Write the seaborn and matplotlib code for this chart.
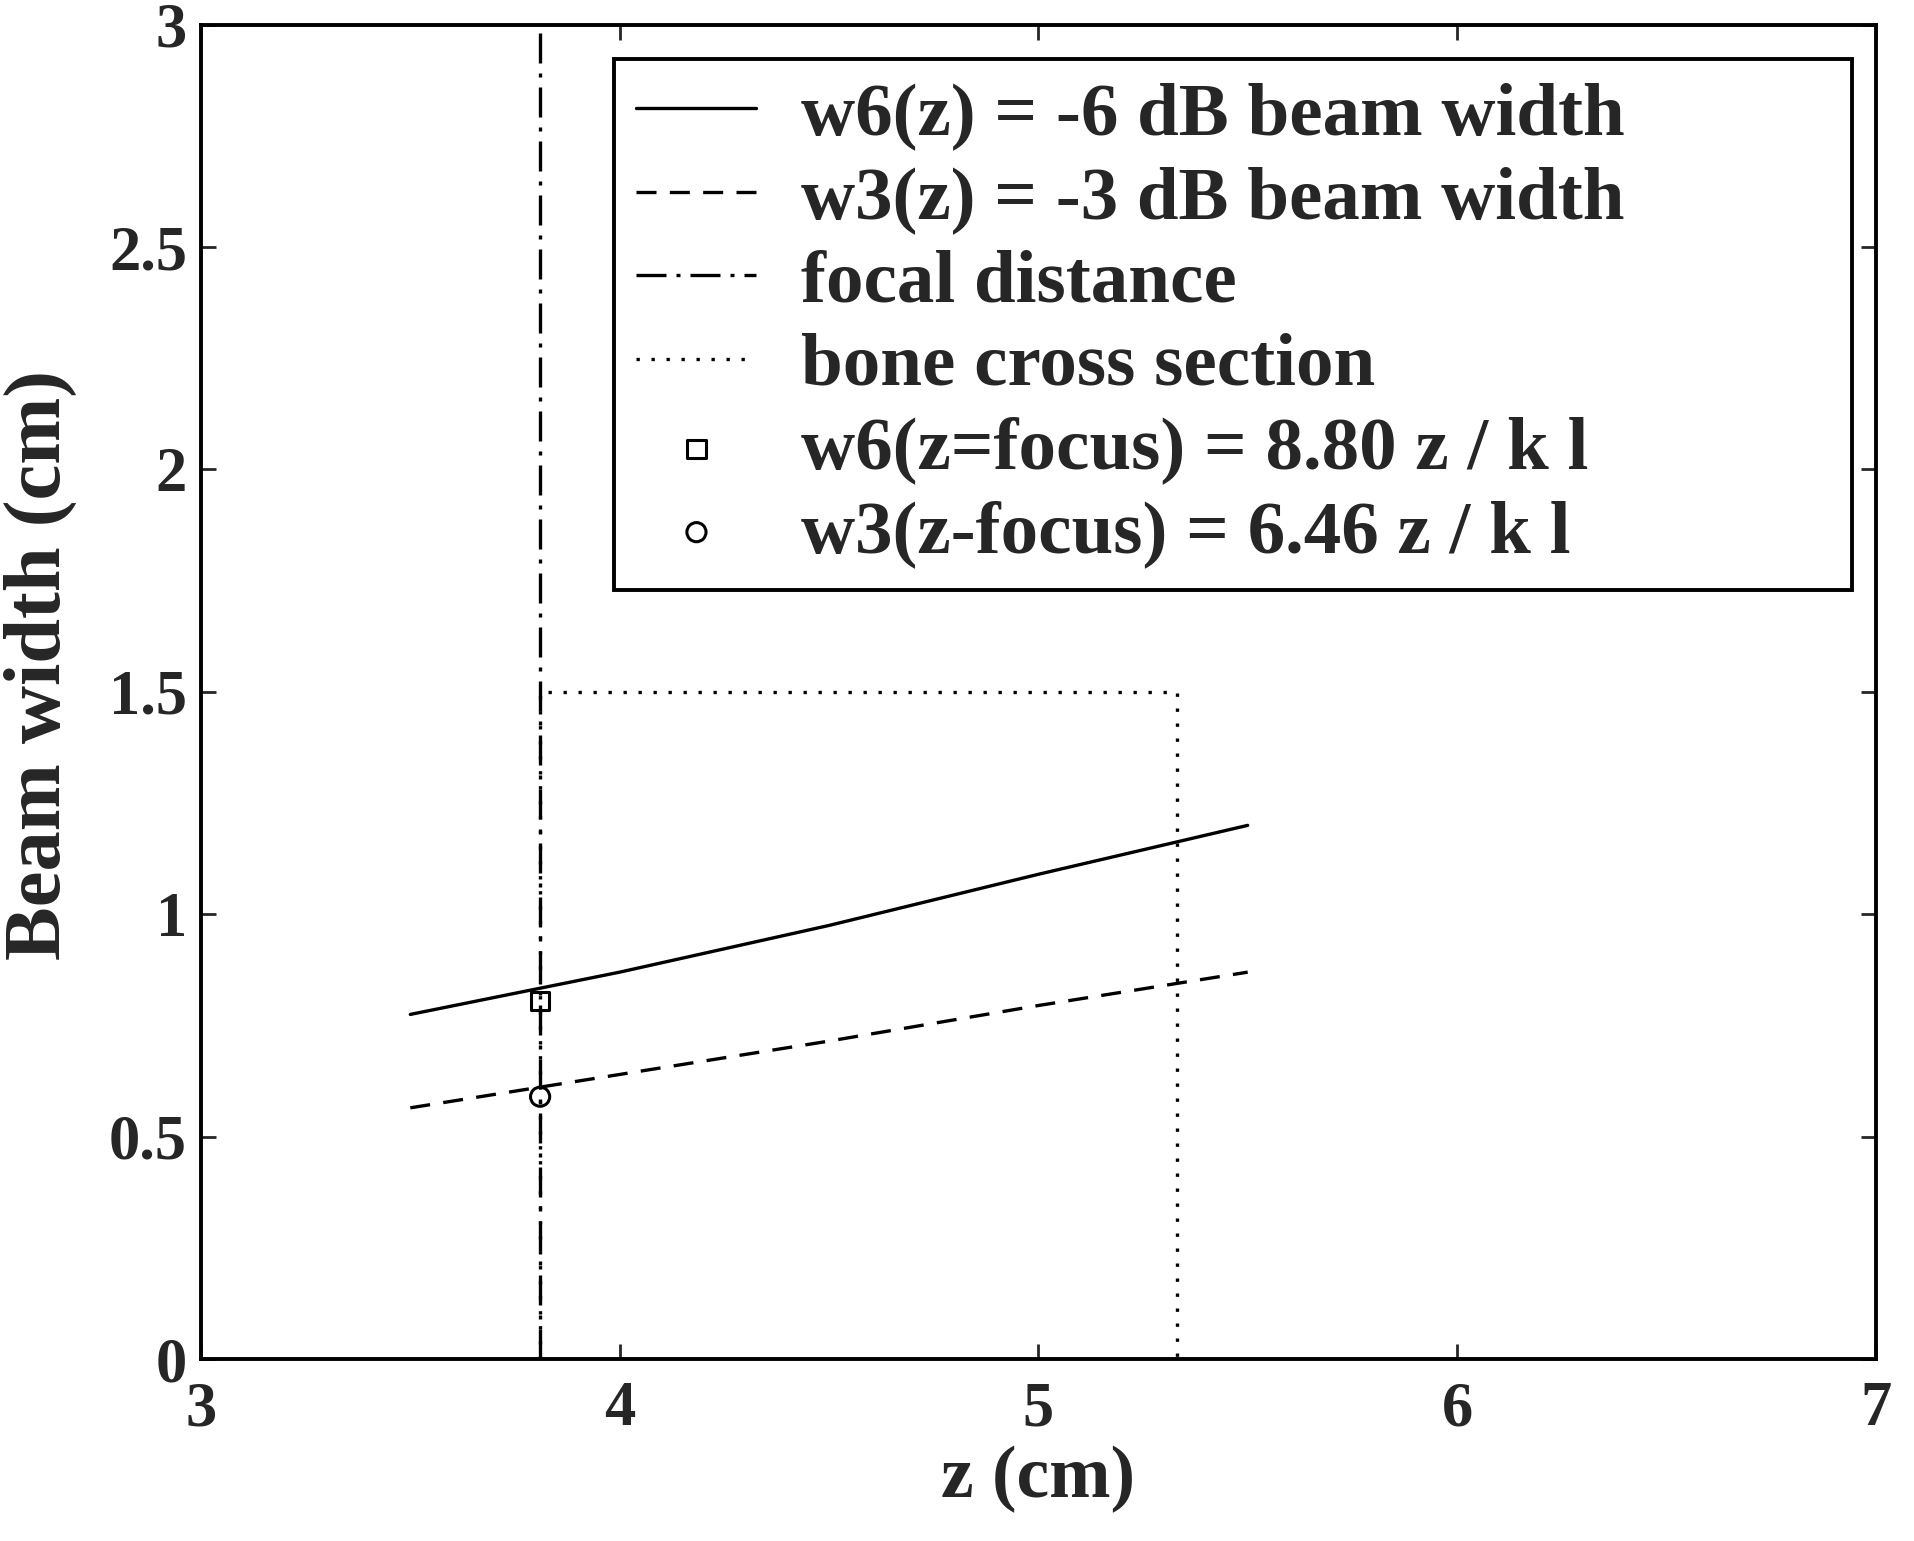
import seaborn as sns
import matplotlib.pyplot as plt

# beam width curves (cm) vs axial distance z (cm)
z_beam = [3.5, 4.0, 4.5, 5.0, 5.5]
w6_beam = [0.775, 0.87, 0.975, 1.09, 1.20]
w3_beam = [0.565, 0.64, 0.715, 0.795, 0.87]

# focal distance and bone cross section outline
focal_z = 3.81
axis_top = 3.0
bone_z = [3.81, 3.81, 5.33, 5.33]
bone_w = [0.0, 1.5, 1.5, 0.0]

# beam width at the focus
w6_focus = 0.805
w3_focus = 0.59

sns.set_style("ticks")
plt.rcParams['font.family'] = ['Liberation Serif', 'DejaVu Serif']
plt.rcParams['font.weight'] = 'bold'

fig = plt.figure(figsize=(19.14, 15.41), dpi=100)
ax = fig.add_axes([0.105, 0.118, 0.875, 0.866])

lw = 2.4
line_kw = dict(ax=ax, color='black', lw=lw, estimator=None, errorbar=None, sort=False)
sns.lineplot(x=z_beam, y=w6_beam, linestyle='-',
             label='w6(z) = -6 dB beam width', **line_kw)
sns.lineplot(x=z_beam, y=w3_beam, linestyle=(0, (6, 4)),
             label='w3(z) = -3 dB beam width', **line_kw)
sns.lineplot(x=[focal_z, focal_z], y=[0, axis_top], linestyle=(0, (9, 3, 1.2, 3)),
             label='focal distance', **line_kw)
sns.lineplot(x=bone_z, y=bone_w, linestyle=(0, (1, 3.5)),
             label='bone cross section', **line_kw)
sns.scatterplot(x=[focal_z], y=[w6_focus], ax=ax, marker='s', s=170,
                facecolor='none', edgecolor='black', linewidth=2.2,
                label='w6(z=focus) = 8.80 z / k l')
sns.scatterplot(x=[focal_z], y=[w3_focus], ax=ax, marker='o', s=190,
                facecolor='none', edgecolor='black', linewidth=2.2,
                label='w3(z-focus) = 6.46 z / k l')

ax.set_xlim(3, 7)
ax.set_ylim(0, 3)
ax.set_xticks([3, 4, 5, 6, 7])
ax.set_yticks([0, 0.5, 1, 1.5, 2, 2.5, 3])
ax.set_yticklabels(['0', '0.5', '1', '1.5', '2', '2.5', '3'])
ax.tick_params(direction='in', length=11, width=2, top=True, right=True,
               labelsize=45)
ax.tick_params(axis='x', pad=16)
ax.tick_params(axis='y', pad=10)
for s in ax.spines.values():
    s.set_linewidth(2.8)
    s.set_color('black')

ax.set_xlabel('z (cm)', fontsize=53, fontweight='bold', labelpad=4)
ax.set_ylabel('Beam width (cm)', fontsize=58, fontweight='bold')
ax.yaxis.set_label_coords(-0.074, 0.52)

leg = ax.legend(loc='upper left', bbox_to_anchor=(0.2466, 0.974, 0.739, 0.0),
                mode='expand', fontsize=54, frameon=True, fancybox=False,
                edgecolor='black', framealpha=1, borderpad=0.3,
                labelspacing=0.2, handlelength=1.6, handletextpad=0.6,
                borderaxespad=0)
leg.get_frame().set_linewidth(2.8)

plt.savefig('out.png', dpi=100)
plt.close()
